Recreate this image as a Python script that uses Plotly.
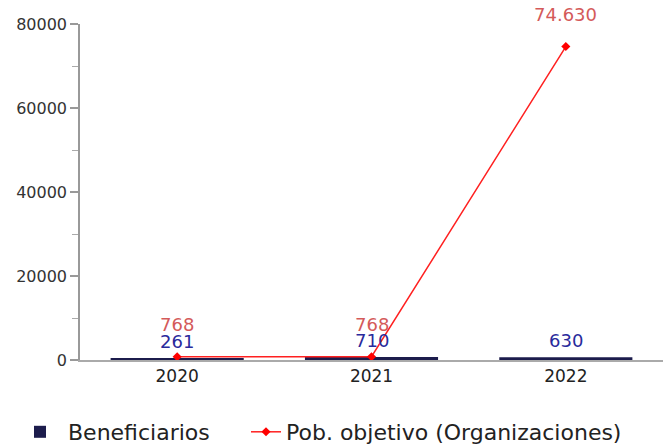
import plotly.graph_objects as go

years = [2020, 2021, 2022]
beneficiarios = [261, 710, 630]
pob_objetivo = [768, 768, 74630]

def fmt(v):
    return f"{v:,}".replace(",", ".")

W, H = 668, 446

fig = go.Figure()
fig.add_trace(go.Bar(
    x=years, y=beneficiarios, name="Beneficiarios",
    width=0.685, legend="legend",
    marker=dict(color="#1c1c4c", line=dict(width=0)),
))
fig.add_trace(go.Scatter(
    x=years, y=pob_objetivo, name="Pob. objetivo (Organizaciones)",
    mode="lines+markers", legend="legend2",
    line=dict(color="#ff2020", width=1.5),
    marker=dict(symbol="diamond", size=7, color="#ff0000"),
))

annotations = []
for x, v in zip(years, beneficiarios):
    annotations.append(dict(x=x, y=v, xref="x", yref="y", text=fmt(v), showarrow=False,
                            yanchor="middle", yshift=17,
                            font=dict(size=18, color="#2a2a9c", family="DejaVu Sans")))
for x, v in zip(years, pob_objetivo):
    annotations.append(dict(x=x, y=v, xref="x", yref="y", text=fmt(v), showarrow=False,
                            yanchor="middle", yshift=32,
                            font=dict(size=18, color="#d45a5a", family="DejaVu Sans")))

legend_common = dict(orientation="h", xref="container", yref="container",
                     xanchor="left", y=(H - 432) / H, yanchor="middle",
                     font=dict(size=22, color="#222222"),
                     bgcolor="rgba(0,0,0,0)", borderwidth=0)

fig.update_layout(
    width=W, height=H,
    margin=dict(l=80, r=5, t=24, b=86, autoexpand=False),
    paper_bgcolor="white", plot_bgcolor="white",
    font=dict(family="DejaVu Sans", color="#333333"),
    showlegend=True,
    legend=dict(x=12 / W, itemwidth=46, **legend_common),
    legend2=dict(x=246 / W, itemwidth=30, **legend_common),
    annotations=annotations,
)
fig.update_xaxes(
    type="linear", range=[2019.5, 2022.5], tickvals=years,
    ticktext=[str(y) for y in years],
    showline=True, linecolor="#aaaaaa", linewidth=2,
    ticks="", showgrid=False, zeroline=False,
    tickfont=dict(size=17, color="#222222"),
)
fig.update_yaxes(
    range=[0, 80000], tickvals=[0, 20000, 40000, 60000, 80000],
    ticks="outside", ticklen=8, tickcolor="#999999", tickwidth=1.5,
    minor=dict(dtick=10000, ticks="outside", ticklen=6, tickcolor="#aaaaaa", tickwidth=1),
    showline=True, linecolor="#999999", linewidth=1.5,
    showgrid=False, zeroline=False, tickformat="d",
    tickfont=dict(size=16, color="#333333"),
)
fig.write_html("out.html", config={"displayModeBar": False},
               post_script="document.body.style.margin='0';")
